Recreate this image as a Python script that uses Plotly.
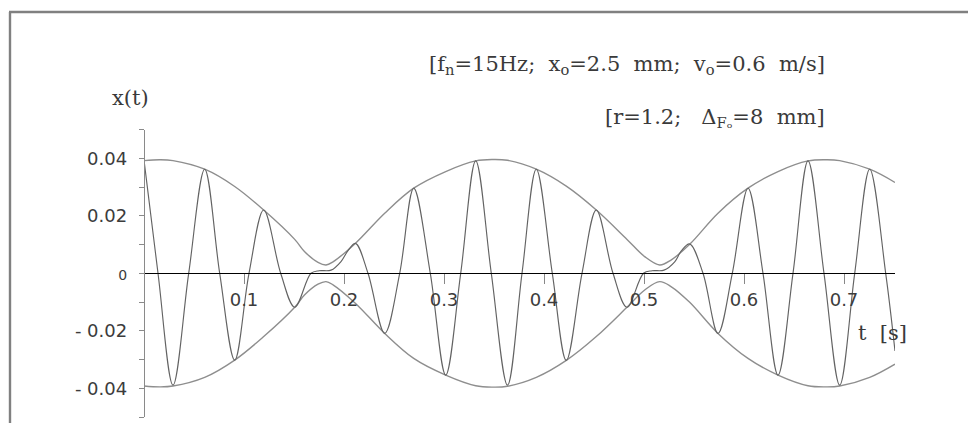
import plotly.graph_objects as go

# Beat response x(t): extrema, zero crossings and node details (t in s, x in m)
t_signal = [0.0, 0.014, 0.029, 0.0447, 0.0607, 0.0757, 0.0907, 0.105, 0.1197, 0.1367,
            0.1507, 0.167, 0.175, 0.187, 0.197, 0.204, 0.2115, 0.224, 0.2407, 0.2557,
            0.2697, 0.2863, 0.3017, 0.3167, 0.3317, 0.3473, 0.3635, 0.378, 0.3923, 0.4083,
            0.4223, 0.438, 0.4523, 0.469, 0.483, 0.4995, 0.508, 0.520, 0.5307, 0.5373,
            0.5457, 0.559, 0.574, 0.5883, 0.604, 0.619, 0.634, 0.649, 0.664, 0.680,
            0.6957, 0.7107, 0.7257, 0.7417, 0.751]
x_signal = [0.0394, 0.0, -0.0389, 0.0, 0.0362, 0.0, -0.0302, 0.0, 0.0220, 0.0,
            -0.0118, 0.0, 0.0009, 0.0011, 0.0041, 0.0079, 0.0104, 0.0, -0.0209, 0.0,
            0.0296, 0.0, -0.0354, 0.0, 0.0391, 0.0, -0.0389, 0.0, 0.0362, 0.0,
            -0.0303, 0.0, 0.0220, 0.0, -0.0118, 0.0, 0.0009, 0.0011, 0.0040, 0.0078,
            0.0102, 0.0, -0.0209, 0.0, 0.0296, 0.0, -0.0354, 0.0, 0.0391, 0.0,
            -0.0389, 0.0, 0.0362, 0.0, -0.0270]

# Envelope of the beat
t_env = [0.0, 0.0157, 0.029, 0.0607, 0.0907, 0.1197, 0.1507, 0.1607, 0.174, 0.182,
         0.189, 0.2113, 0.2407, 0.2697, 0.3017, 0.3317, 0.3487, 0.3635, 0.3923, 0.4223,
         0.4523, 0.483, 0.5007, 0.5157, 0.527, 0.5457, 0.574, 0.604, 0.634, 0.664,
         0.6823, 0.6957, 0.7257, 0.751]
env_upper = [0.0392, 0.0395, 0.0392, 0.0362, 0.0302, 0.0220, 0.0118, 0.0075, 0.0038, 0.0029,
             0.0040, 0.0104, 0.0209, 0.0296, 0.0354, 0.0391, 0.0396, 0.0393, 0.0362, 0.0303,
             0.0220, 0.0118, 0.0058, 0.0029, 0.0046, 0.0101, 0.0209, 0.0296, 0.0354, 0.0391,
             0.0395, 0.0392, 0.0362, 0.0316]
env_lower = [-0.0392, -0.0395, -0.0392, -0.0362, -0.0302, -0.0220, -0.0118, -0.0075, -0.0038, -0.0029,
             -0.0040, -0.0104, -0.0209, -0.0296, -0.0354, -0.0391, -0.0396, -0.0393, -0.0362, -0.0303,
             -0.0220, -0.0118, -0.0058, -0.0029, -0.0046, -0.0101, -0.0209, -0.0296, -0.0354, -0.0391,
             -0.0395, -0.0392, -0.0362, -0.0316]

x_tick_vals = [0.1, 0.2, 0.3, 0.4, 0.5, 0.6, 0.7]
x_tick_text = ["0.1", "0.2", "0.3", "0.4", "0.5", "0.6", "0.7"]
y_tick_vals = [-0.04, -0.02, 0.0, 0.02, 0.04]
y_tick_text = ["- 0.04", "- 0.02", "<span style='font-size:14px'>0</span>", "0.02", "0.04"]

W, H = 968, 423


def px(x):
    return x / W


def py(y):
    return 1 - y / H


fig = go.Figure()

env_style = dict(color="#8e8e8e", width=1.4, shape="spline", smoothing=1.0)
fig.add_trace(go.Scatter(x=t_env, y=env_upper, mode="lines", line=env_style,
                         hoverinfo="skip", showlegend=False))
fig.add_trace(go.Scatter(x=t_env, y=env_lower, mode="lines", line=env_style,
                         hoverinfo="skip", showlegend=False))
fig.add_trace(go.Scatter(x=t_signal, y=x_signal, mode="lines",
                         line=dict(color="#636363", width=1.15, shape="spline", smoothing=1.0),
                         hoverinfo="skip", showlegend=False))

tick_font = dict(family="DejaVu Sans", size=18, color="#3c3c3c")
serif = dict(family="DejaVu Serif", size=21, color="#3a3a3a")

fig.update_layout(
    width=W, height=H,
    margin=dict(l=0, r=0, t=0, b=0),
    paper_bgcolor="white", plot_bgcolor="rgba(0,0,0,0)",
    xaxis=dict(
        range=[0, 0.751], domain=[px(144), px(895)],
        anchor="free", position=py(273.3),
        showline=True, linecolor="black", linewidth=1.2,
        ticks="outside", ticklen=10, tickwidth=1, tickcolor="#888",
        tickvals=x_tick_vals, ticktext=x_tick_text, tickfont=tick_font,
        ticklabelstandoff=0,
        showgrid=False, zeroline=False,
    ),
    yaxis=dict(
        range=[-0.05, 0.05], domain=[py(417.05), py(129.55)],
        anchor="free", position=px(144),
        showline=True, linecolor="#8a8a8a", linewidth=1.4,
        ticks="outside", ticklen=5, tickwidth=1.2, tickcolor="#8a8a8a",
        tickvals=y_tick_vals, ticktext=y_tick_text, tickfont=tick_font,
        ticklabelstandoff=8,
        minor=dict(dtick=0.01, tick0=0, ticks="outside", ticklen=5,
                   tickwidth=1.2, tickcolor="#8a8a8a", showgrid=False),
        showgrid=False, zeroline=False,
    ),
    shapes=[
        dict(type="line", xref="paper", yref="paper",
             x0=px(10), y0=py(423), x1=px(10), y1=py(12),
             line=dict(color="#808080", width=2.4)),
        dict(type="line", xref="paper", yref="paper",
             x0=px(9), y0=py(12), x1=px(968), y1=py(12),
             line=dict(color="#808080", width=2.4)),
    ],
    annotations=[
        dict(xref="paper", yref="paper", x=px(827), y=py(65), xanchor="right", yanchor="middle",
             text="[f<sub>n</sub>=15Hz;\u00a0 x<sub>o</sub>=2.5\u00a0 mm;\u00a0 v<sub>o</sub>=0.6\u00a0 m/s]",
             showarrow=False, font=serif),
        dict(xref="paper", yref="paper", x=px(827), y=py(118), xanchor="right", yanchor="middle",
             text="[r=1.2;\u00a0\u00a0 \u0394<sub>F\u2092</sub>=8\u00a0 mm]",
             showarrow=False, font=serif),
        dict(xref="paper", yref="paper", x=px(130), y=py(98), xanchor="center", yanchor="middle",
             text="x(t)", showarrow=False, font=serif),
        dict(xref="paper", yref="paper", x=px(882), y=py(333), xanchor="center", yanchor="middle",
             text="t\u00a0 [s]", showarrow=False, font=serif),
    ],
)

fig.write_html("out.html")
